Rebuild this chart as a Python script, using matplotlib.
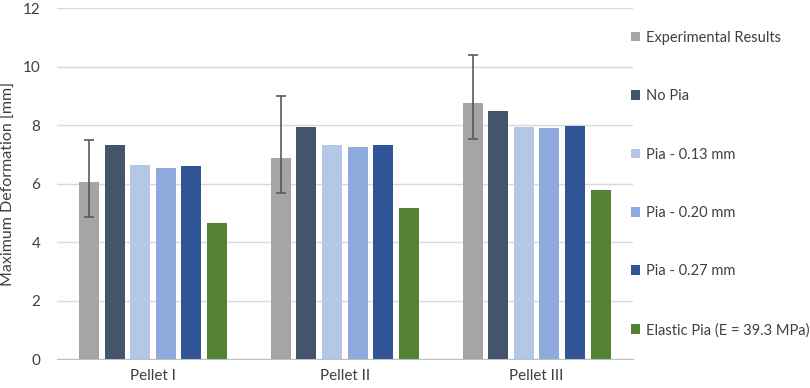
import numpy as np
import matplotlib.pyplot as plt

plt.rcParams['font.family'] = ['Lato', 'DejaVu Sans']

# Datos
pellets = ["Pellet I", "Pellet II", "Pellet III"]
series = ["Experimental Results", "No Pia", "Pia - 0.13 mm",
          "Pia - 0.20 mm", "Pia - 0.27 mm", "Elastic Pia (E = 39.3 MPa)"]

experimental = [6.07, 6.89, 8.76]
err_low = [1.21, 1.22, 1.24]
err_high = [1.42, 2.11, 1.64]
no_pia = [7.31, 7.94, 8.48]
pia_013 = [6.63, 7.31, 7.93]
pia_020 = [6.52, 7.26, 7.90]
pia_027 = [6.61, 7.31, 7.96]
elastic = [4.64, 5.15, 5.78]

valores = [experimental, no_pia, pia_013, pia_020, pia_027, elastic]
colores = ["#A5A5A5", "#44546A", "#B4C7E7", "#8FAADC", "#2F5597", "#548235"]

fig = plt.figure(figsize=(8.1, 3.88), dpi=100)
ax = fig.add_axes([0.0704, 0.0747, 0.7106, 0.9043])

x = np.arange(len(pellets))
paso = 0.1333
ancho = 0.104

for i, (vals, col, nombre) in enumerate(zip(valores, colores, series)):
    pos = x + (i - 2.5) * paso
    ax.bar(pos, vals, width=ancho, color=col, label=nombre, zorder=3)
    if i == 0:
        ax.errorbar(pos, vals, yerr=[err_low, err_high], fmt="none",
                    ecolor="#595959", elinewidth=1.2, capsize=3.5,
                    capthick=1.2, zorder=4)

ax.set_xlim(-0.5, 2.5)
ax.set_ylim(0, 12)
ax.set_yticks(np.arange(0, 13, 2))
ax.set_xticks(x)
ax.set_xticklabels(pellets)
ax.yaxis.grid(True, color="#D9D9D9", linewidth=1, zorder=0)
ax.tick_params(length=0, labelsize=11, colors="#404040", pad=7)
ax.tick_params(axis="y", pad=12)
for lado in ["top", "right", "left"]:
    ax.spines[lado].set_visible(False)
ax.spines["bottom"].set_color("#BFBFBF")
ax.spines["bottom"].set_zorder(5)
ax.set_ylabel("Maximum Deformation [mm]", fontsize=11.5, color="#404040",
              labelpad=5)

ax.legend(loc="center left", bbox_to_anchor=(0.779, 0.526),
          bbox_transform=fig.transFigure, frameon=False, fontsize=10.5,
          handlelength=0.65, handleheight=0.65, handletextpad=0.35,
          labelspacing=3.05, borderpad=0, borderaxespad=0,
          labelcolor="#404040")

plt.savefig("out.png", dpi=100)
